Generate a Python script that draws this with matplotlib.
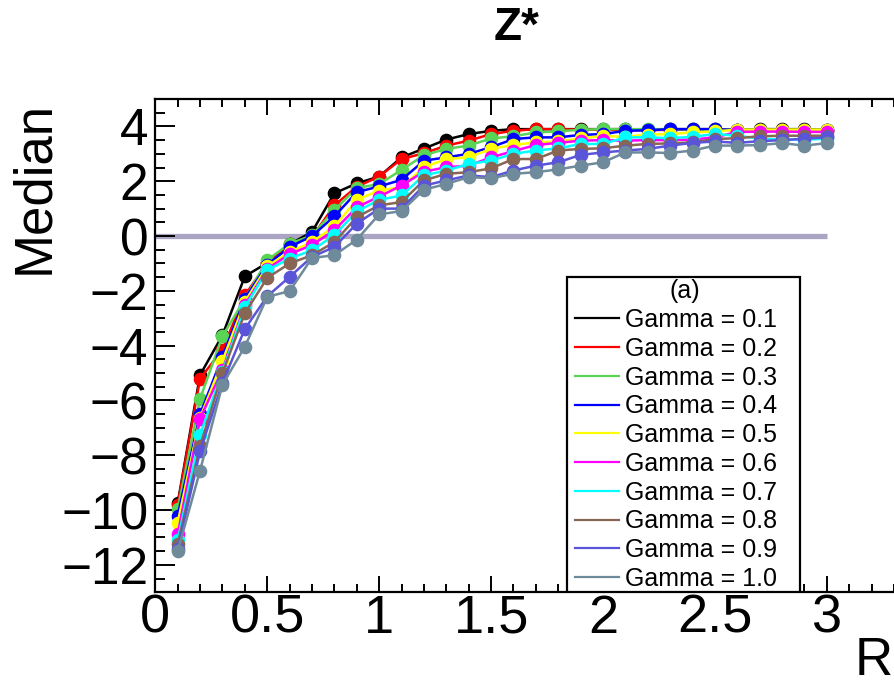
import numpy as np
import matplotlib
matplotlib.use("Agg")
import matplotlib.pyplot as plt
from matplotlib.ticker import MultipleLocator
from matplotlib.patches import Rectangle

plt.rcParams['font.family'] = ['Liberation Sans', 'DejaVu Sans']

# R values (x axis)
r_vals = [0.1, 0.2, 0.3, 0.4, 0.5, 0.6, 0.7, 0.8, 0.9, 1.0,
          1.1, 1.2, 1.3, 1.4, 1.5, 1.6, 1.7, 1.8, 1.9, 2.0,
          2.1, 2.2, 2.3, 2.4, 2.5, 2.6, 2.7, 2.8, 2.9, 3.0]

gamma_labels = ['0.1', '0.2', '0.3', '0.4', '0.5', '0.6', '0.7', '0.8', '0.9', '1.0']

# median Z* for each gamma
g01 = [-9.75, -5.07, -3.62, -1.47, -0.98, -0.30, 0.15, 1.56, 1.92, 2.17,
       2.87, 3.19, 3.52, 3.72, 3.84, 3.90, 3.90, 3.90, 3.90, 3.90,
       3.90, 3.88, 3.90, 3.90, 3.90, 3.88, 3.90, 3.90, 3.90, 3.88]
g02 = [-9.80, -5.20, -4.15, -2.16, -1.00, -0.30, -0.04, 1.12, 1.80, 2.17,
       2.81, 3.02, 3.30, 3.48, 3.72, 3.84, 3.90, 3.90, 3.88, 3.88,
       3.87, 3.86, 3.88, 3.88, 3.88, 3.87, 3.87, 3.88, 3.88, 3.87]
g03 = [-9.97, -5.94, -3.65, -2.30, -0.88, -0.28, 0.02, 0.95, 1.75, 1.90,
       2.41, 2.95, 3.18, 3.30, 3.56, 3.64, 3.78, 3.82, 3.88, 3.90,
       3.90, 3.90, 3.90, 3.88, 3.88, 3.88, 3.88, 3.88, 3.88, 3.88]
g04 = [-10.20, -6.50, -4.40, -2.28, -1.05, -0.40, 0.00, 0.72, 1.60, 1.81,
       2.05, 2.75, 2.87, 3.00, 3.24, 3.54, 3.60, 3.60, 3.69, 3.72,
       3.84, 3.86, 3.90, 3.90, 3.90, 3.86, 3.86, 3.86, 3.86, 3.86]
g05 = [-10.46, -6.63, -4.56, -2.40, -1.10, -0.58, -0.22, 0.35, 1.32, 1.66,
       1.78, 2.51, 2.81, 2.87, 3.18, 3.32, 3.42, 3.45, 3.56, 3.65,
       3.62, 3.70, 3.72, 3.78, 3.82, 3.88, 3.88, 3.88, 3.88, 3.88]
g06 = [-10.88, -6.67, -4.88, -2.52, -1.20, -0.66, -0.33, 0.21, 1.05, 1.44,
       1.84, 2.35, 2.51, 2.57, 2.87, 3.10, 3.32, 3.40, 3.48, 3.50,
       3.48, 3.50, 3.50, 3.52, 3.60, 3.80, 3.81, 3.81, 3.80, 3.80]
g07 = [-11.10, -7.25, -4.95, -2.60, -1.25, -0.82, -0.52, 0.03, 0.90, 1.32,
       1.48, 2.21, 2.39, 2.63, 2.75, 3.00, 3.12, 3.20, 3.36, 3.36,
       3.60, 3.60, 3.57, 3.62, 3.72, 3.66, 3.55, 3.52, 3.52, 3.55]
g08 = [-11.25, -7.67, -5.00, -2.82, -1.53, -1.00, -0.70, -0.22, 0.69, 1.12,
       1.24, 2.03, 2.27, 2.33, 2.47, 2.81, 2.81, 3.12, 3.18, 3.20,
       3.30, 3.36, 3.38, 3.42, 3.54, 3.57, 3.64, 3.66, 3.66, 3.66]
g09 = [-11.43, -7.85, -5.36, -3.39, -2.20, -1.49, -0.76, -0.40, 0.45, 1.00,
       1.00, 1.84, 2.03, 2.21, 2.15, 2.39, 2.57, 2.69, 2.96, 3.05,
       3.12, 3.18, 3.30, 3.40, 3.45, 3.40, 3.46, 3.50, 3.55, 3.60]
g10 = [-11.50, -8.56, -5.42, -4.04, -2.22, -2.01, -0.80, -0.70, -0.13, 0.79,
       0.91, 1.69, 1.90, 2.15, 2.11, 2.27, 2.33, 2.43, 2.57, 2.69,
       3.05, 3.05, 3.03, 3.12, 3.30, 3.30, 3.32, 3.39, 3.30, 3.39]

series = [g01, g02, g03, g04, g05, g06, g07, g08, g09, g10]
colors = ['#000000', '#ff0000', '#59d454', '#0000ff', '#ffff00',
          '#ff00ff', '#00ffff', '#876656', '#5954d8', '#6f8a9a']

fig = plt.figure(figsize=(8.94, 6.87), dpi=100)
ax = fig.add_axes([155.3 / 894, 1 - 592.3 / 687, 738.7 / 894, 493.3 / 687])

# zero reference line
ax.plot([0, 3.0], [0, 0], color='#aaa5c3', lw=3.8, zorder=1, solid_capstyle='butt')

for vals, col, lab in zip(series, colors, gamma_labels):
    ax.plot(r_vals, vals, color=col, lw=1.8, marker='o', ms=8.8,
            mec=col, mfc=col, label='Gamma = ' + lab, zorder=2)

ax.set_xlim(0, 3.3)
ax.set_ylim(-13, 5)

ax.xaxis.set_major_locator(MultipleLocator(0.5))
ax.xaxis.set_minor_locator(MultipleLocator(0.1))
ax.yaxis.set_major_locator(MultipleLocator(2))
ax.yaxis.set_minor_locator(MultipleLocator(0.5))

ax.tick_params(axis='both', which='both', direction='in', top=True, right=False, width=1.4)
ax.tick_params(axis='x', which='major', length=11.5, labelsize=39, pad=1)
ax.tick_params(axis='x', which='minor', length=5.8)
ax.tick_params(axis='y', which='major', length=14.4, labelsize=37, pad=5)
ax.tick_params(axis='y', which='minor', length=7)
for sp in ax.spines.values():
    sp.set_linewidth(1.6)
ax.spines['right'].set_visible(False)

ax.set_xticks([0, 0.5, 1, 1.5, 2, 2.5, 3])
ax.set_xticklabels(['0', '0.5', '1', '1.5', '2', '2.5', '3'])

fig.text(34 / 894, 1 - 187 / 687, 'Median', rotation=90, fontsize=38,
         ha='center', va='center')
fig.text(893 / 894, 1 - 686 / 687, 'R', fontsize=38, ha='right', va='bottom')
fig.text(517 / 894, 1 - 28 / 687, 'Z*', fontsize=33, fontweight='bold',
         ha='center', va='center')

# legend box (drawn separately so the padding can match)
box = Rectangle((0.557, 0.0), 0.316, 0.639, transform=ax.transAxes,
                facecolor='white', edgecolor='black', lw=1.6, zorder=4)
ax.add_patch(box)

leg = ax.legend(loc='lower left', bbox_to_anchor=(0.568, 0.003, 0.298, 0.6),
                mode='expand', title='(a)', fontsize=18, title_fontsize=18,
                frameon=False, handlelength=1.75, handletextpad=0.25,
                labelspacing=0.19, borderpad=0.0, borderaxespad=0.0)
for h in leg.get_lines():
    h.set_marker('')
    h.set_linewidth(1.6)
leg.set_zorder(5)

fig.savefig('out.png', dpi=100)
